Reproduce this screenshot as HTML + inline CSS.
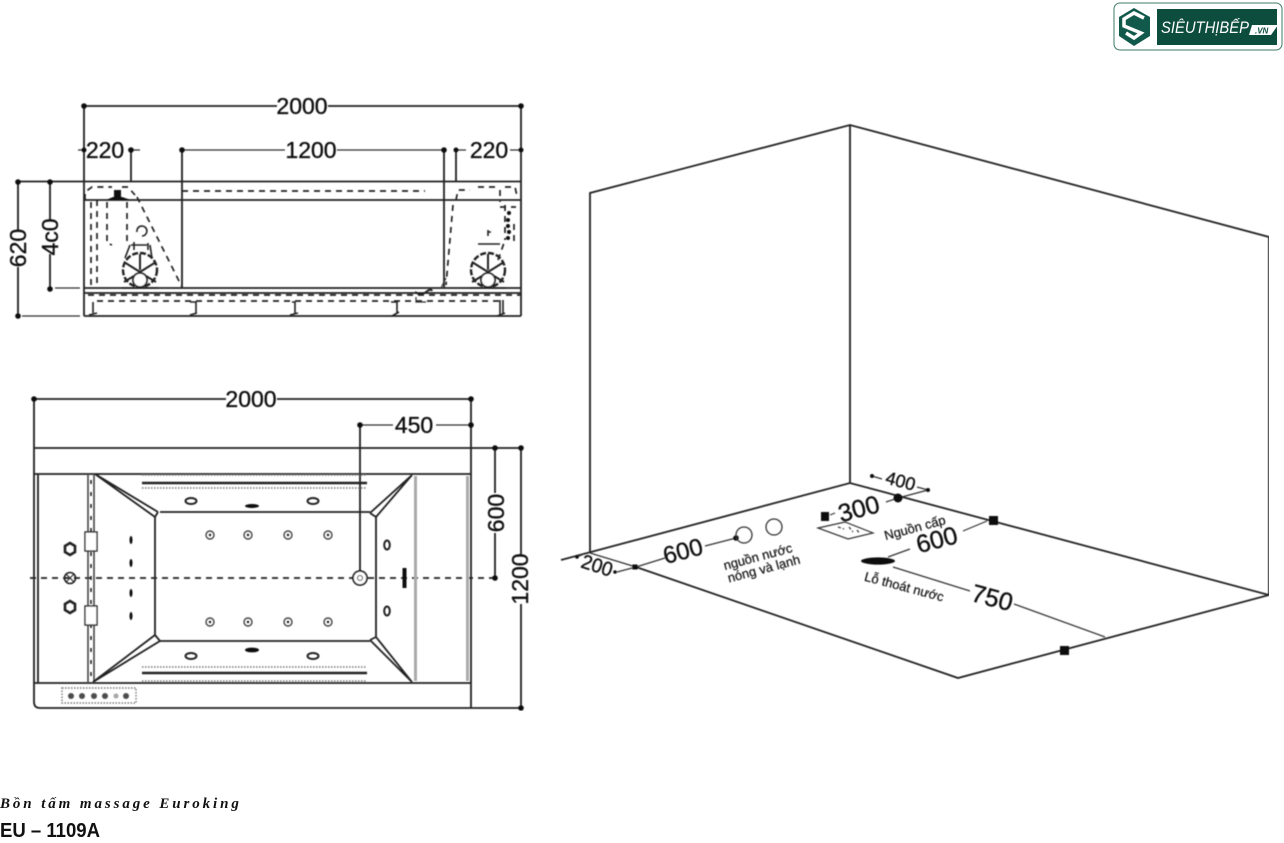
<!DOCTYPE html>
<html><head><meta charset="utf-8"><style>
html,body{margin:0;padding:0;background:#fff;width:1284px;height:843px;overflow:hidden}
svg{display:block}
text{font-family:"Liberation Sans","DejaVu Sans",sans-serif;fill:#111}
.d{font-size:23px;text-anchor:middle;stroke:#111;stroke-width:.35px}
.l{stroke:#222;stroke-width:1.8;fill:none}
.t{stroke:#333;stroke-width:1.2;fill:none}
.da{stroke:#222;stroke-width:1.7;fill:none;stroke-dasharray:6 5}
.do{stroke:#777;stroke-width:1.4;fill:none;stroke-dasharray:1.5 1.5}
.f{fill:#111}
.s{font-size:13px;text-anchor:middle;stroke:#111;stroke-width:.2px}
</style></head><body>
<svg width="1284" height="843" viewBox="0 0 1284 843" xmlns="http://www.w3.org/2000/svg">
<defs><filter id="b" x="0" y="0" width="100%" height="100%"><feGaussianBlur stdDeviation="0.4"/></filter></defs>
<g filter="url(#b)">
<!-- TOP VIEW -->
<g>
<path class="l" d="M84 106H277M328 106H521M84 106V316M521 106V316"/>
<path class="t" d="M78 150H84M128 150H140M182 150H285M337 150H444M456 150H466M510 150H521"/>
<path class="l" d="M131 150V181M182 150V288M444 150V288M456 150V181"/>
<path class="l" d="M18 181.5H521M84 200H521M84 288H521M84 293H521M84 316H521"/>
<path class="t" d="M55 288H80M22 316H80"/>
<path class="l" d="M18 182V230M18 267V316M50 182V220M50 254V288"/>
<g class="f">
<circle cx="84" cy="106" r="2.8"/><circle cx="521" cy="106" r="2.8"/><circle cx="84" cy="150" r="2.5"/><circle cx="131" cy="150" r="2.8"/><circle cx="182" cy="150" r="2.8"/><circle cx="444" cy="150" r="2.8"/><circle cx="456" cy="150" r="2.5"/><circle cx="521" cy="150" r="2.5"/><circle cx="18" cy="182" r="2.8"/><circle cx="50" cy="182" r="2.8"/><circle cx="18" cy="316" r="2.8"/><circle cx="50" cy="289" r="2.8"/>
</g>
<text class="d" x="302" y="114">2000</text>
<text class="d" x="105" y="158">220</text>
<text class="d" x="311" y="158">1200</text>
<text class="d" x="489" y="158">220</text>
<text class="d" transform="translate(26,248) rotate(-90)">620</text>
<text class="d" transform="translate(58,237) rotate(-90)">4c0</text>
<path class="da" d="M182 191H425M88 295H521M97 301H500"/>
<path class="da" d="M85 200V192L92 187H112M122 187H128L135 195M137 197L182 287M91 202V288M97 200V285M107 202V243L112 245M127 202V245"/>
<path class="da" d="M456 200L458 190H470M478 187H495M505 187H515L517 196M453 205L446 285M500 190V202M505 205V240M498 260L504 243"/>
<path class="f" d="M114 190h7v8h-7z"/><path d="M106 200L113 197H122L131 200Z" class="f"/>
<g class="f"><circle cx="509" cy="213" r="2"/><circle cx="508" cy="220" r="2"/><circle cx="508" cy="226" r="2"/><circle cx="509" cy="232" r="2"/><circle cx="508" cy="238" r="2"/></g>
<path class="da" d="M500 207H516M514 224V242"/>
<!-- motors -->
<g class="l">
<circle cx="140" cy="270" r="17" stroke-dasharray="6 2" stroke-width="2.4"/>
<path d="M140 254V270M124 262L140 272M156 262L140 272M124 282L134 276M156 282L146 276" stroke-width="2"/>
<circle cx="140" cy="280" r="7" fill="#fff"/>
<path d="M122 288H158M131 245H147M137 232A5 5 0 1 1 142 236M134 242V250M148 243V250M125 258L130 245M152 258L150 245" stroke-width="1.6"/>
</g>
<g class="l">
<circle cx="488" cy="270" r="17" stroke-dasharray="6 2" stroke-width="2.4"/>
<path d="M488 254V270M472 262L488 272M504 262L488 272M472 282L482 276M504 282L494 276" stroke-width="2"/>
<circle cx="488" cy="280" r="7" fill="#fff"/>
<path d="M470 288H506M478 244H500M488 232H491M488 236V230" stroke-width="1.6"/>
</g>
<!-- feet -->
<g class="l">
<path d="M93 302V313M89 315L97 313M190 302H196V313M190 315L197 313M292 302H295V313M290 315L298 313M391 302H397V313M392 316L399 312M500 300V314M497 316L505 313M503 300V314" stroke-width="1.6"/>
</g>
<path d="M415 292Q421 296 426 292T432 291" stroke="#222" stroke-width="2" fill="none"/>
<path class="t" d="M416 297V302H426M441 288L446 278"/>
</g>
<!-- BOTTOM VIEW -->
<g>
<path class="l" d="M34 399H226M277 399H471M34 399V702Q34 708 40 708H521M471 399V708"/>
<path class="t" d="M360 425H393M436 425H471"/>
<path class="l" d="M360 425V571M34 448H521M495 448V493M495 533V578M521 448V555M521 604V708"/>
<path class="da" d="M30 578H353M368 578H495"/>
<g class="f">
<circle cx="34" cy="399" r="2.8"/><circle cx="471" cy="399" r="2.8"/><circle cx="360" cy="425" r="2.8"/><circle cx="471" cy="425" r="2.8"/><circle cx="495" cy="448" r="2.8"/><circle cx="521" cy="448" r="2.8"/><circle cx="495" cy="578" r="2.8"/><circle cx="521" cy="708" r="2.8"/>
</g>
<text class="d" x="251" y="407">2000</text>
<text class="d" x="414" y="433">450</text>
<text class="d" transform="translate(504,513) rotate(-90)">600</text>
<text class="d" transform="translate(528,579) rotate(-90)">1200</text>
<path class="l" d="M34 474H471M34 683H471M38 474V683"/>
<path d="M88 474V683M94 474V683" stroke="#444" stroke-width="1.6" fill="none"/>
<path d="M91 480V680" stroke="#222" stroke-width="1.6" stroke-dasharray="4 8" fill="none"/>
<path d="M415.5 476V681M467.5 476V681" stroke="#aaa" stroke-width="3" fill="none"/>
<path class="l" d="M155 517V635M160 512H370M376 517V637M160 641H370"/>
<path class="l" d="M95 474L158 512M95 474L155 517M155 517L158 512M412 475L370 513M412 475L376 517M370 513L376 517M93 682L155 635M93 682L160 641M155 635L160 641M412 682L370 640M412 682L376 637M370 640L376 637" stroke-width="1.3"/>
<path d="M142 483H367M142 673H367" stroke="#222" stroke-width="2.6"/>
<path class="do" d="M142 475H367M142 488H367M142 667H367M142 681H367"/>
<circle cx="360" cy="578" r="7" fill="#fff" stroke="#222" stroke-width="1.8"/><circle cx="360" cy="578" r="2.5" fill="none" stroke="#333"/>
<g fill="none" stroke="#444" stroke-width="1.4">
<circle cx="210" cy="535" r="4"/><circle cx="248" cy="535" r="4"/><circle cx="288" cy="535" r="4"/><circle cx="328" cy="535" r="4"/>
<circle cx="210" cy="622" r="4"/><circle cx="248" cy="622" r="4"/><circle cx="288" cy="622" r="4"/><circle cx="328" cy="622" r="4"/>
</g>
<g class="f"><circle cx="210" cy="535" r="1.2"/><circle cx="248" cy="535" r="1.2"/><circle cx="288" cy="535" r="1.2"/><circle cx="328" cy="535" r="1.2"/><circle cx="210" cy="622" r="1.2"/><circle cx="248" cy="622" r="1.2"/><circle cx="288" cy="622" r="1.2"/><circle cx="328" cy="622" r="1.2"/></g>
<g fill="none" stroke="#222" stroke-width="2">
<ellipse cx="191" cy="501" rx="5.5" ry="3"/><ellipse cx="313" cy="501" rx="5.5" ry="3"/><ellipse cx="191" cy="656" rx="5.5" ry="3"/><ellipse cx="313" cy="656" rx="5.5" ry="3"/>
<ellipse cx="387" cy="545" rx="2.8" ry="4.5"/><ellipse cx="387" cy="611" rx="2.8" ry="4.5"/>
</g>
<g class="f"><ellipse cx="252" cy="506" rx="7" ry="2"/><ellipse cx="252" cy="650" rx="7" ry="2.4"/><rect x="402.5" y="568" width="4" height="20"/>
<ellipse cx="131" cy="540" rx="1.5" ry="4"/><ellipse cx="131" cy="563" rx="1.5" ry="4"/><ellipse cx="131" cy="593" rx="1.5" ry="4"/><ellipse cx="131" cy="616" rx="1.5" ry="4"/></g>
<g fill="#fff" stroke="#222" stroke-width="1.4">
<rect x="85" y="532" width="12" height="19"/><rect x="85" y="606" width="12" height="19"/>
</g>
<g fill="none" stroke="#222">
<path d="M70 543L75 546V552L70 555L65 552V546Z" stroke-width="2.6"/><path d="M70 601L75 604V610L70 613L65 610V604Z" stroke-width="2.6"/>
<circle cx="70" cy="578" r="5.5" stroke-width="1.6"/><path d="M66 574L74 582M74 574L66 582" stroke-width="1"/>
</g>
<path class="do" d="M62 688H136V703H62Z"/>
<g class="f" fill-opacity=".75"><circle cx="71" cy="696" r="3"/><circle cx="82" cy="696" r="3"/><circle cx="94" cy="696" r="3"/><circle cx="105" cy="696" r="3"/><circle cx="116" cy="696" r="2.5" fill="#888"/><circle cx="126" cy="696" r="3"/></g>
</g>
<!-- 3D ROOM -->
<g>
<path class="l" d="M590 552V193L850 125L1269 237V595M850 125V483"/>
<path class="l" d="M561 560L850 483L1269 595L958 678L636 567"/>
<path class="t" d="M577 557L584 554M590 553L636 567M617 572L636 567M636 567L665 558M705 546L736 538"/>
<path class="t" d="M872 476L882 479M917 487L928 490M898 498L928 490M830 515L835 513M886 502L898 498M888 557L910 549M963 531L987 521M893 567L970 591M1014 604L1105 637"/>
<g class="f"><circle cx="577" cy="557" r="1.8"/><circle cx="615" cy="572" r="1.8"/><rect x="632.5" y="564.5" width="5" height="5"/><circle cx="736" cy="538" r="2.8"/><circle cx="872" cy="476" r="2"/><circle cx="928" cy="490" r="2"/><circle cx="898" cy="498" r="4.5"/>
<rect x="821" y="512" width="8" height="9"/><rect x="989" y="516" width="9" height="9"/><rect x="1060" y="646" width="9" height="9"/><ellipse cx="878" cy="561" rx="17" ry="3.6"/></g>
<circle cx="744" cy="535" r="8" fill="none" stroke="#333" stroke-width="1.3"/><circle cx="774" cy="527" r="8" fill="none" stroke="#333" stroke-width="1.3"/>
<path class="t" d="M818 528L845 522L873 533L848 539Z"/>
<path class="t" d="M838 527L844 529M849 527L853 532M857 530L860 534" stroke-dasharray="3 2"/>
<text class="d" transform="translate(595,572) rotate(18) scale(.95 1)" style="font-size:20px">200</text>
<text class="d" transform="translate(685,559) rotate(-15)" style="font-size:24px">600</text>
<text class="d" transform="translate(861,517) rotate(-15)" style="font-size:25px">300</text>
<text class="d" transform="translate(899,487) rotate(15)" style="font-size:18px">400</text>
<text class="d" transform="translate(939,548) rotate(-15)" style="font-size:25px">600</text>
<text class="d" transform="translate(990,606) rotate(15)" style="font-size:25px">750</text>
<text class="s" transform="translate(759,561) rotate(-15)">nguồn nước</text>
<text class="s" transform="translate(765,573) rotate(-15)">nóng và lạnh</text>
<text class="s" transform="translate(916,532) rotate(-15)">Nguồn cấp</text>
<text class="s" transform="translate(903,591) rotate(15)">Lỗ thoát nước</text>
</g>
</g>
<!-- LOGO -->
<g>
<rect x="1114" y="3" width="168" height="47" rx="6" fill="#fff" stroke="#3f7a68" stroke-width="1"/>
<path d="M1134 8L1150 17V36L1134 46L1119 36V17Z" fill="#11594a"/>
<path d="M1144 18L1134 13L1124 19V26L1141 33L1134 38L1126 33" fill="none" stroke="#fff" stroke-width="3.5"/>
<rect x="1157" y="9" width="120" height="36" fill="#0d4d3e"/>
<text x="1161" y="33" style="font-size:17px;font-style:italic;fill:#fff" textLength="88" lengthAdjust="spacingAndGlyphs">SIÊUTHỊBẾP</text>
<path d="M1252 25H1278L1271 35H1249Z" fill="#fff"/>
<text x="1255" y="33.5" style="font-size:8px;font-style:italic;font-weight:bold;fill:#0d4d3e">.VN</text>
</g>
<!-- CAPTION -->
<text x="0" y="808" style="font-family:'Liberation Serif','DejaVu Serif',serif;font-size:15px;font-style:italic;font-weight:bold;letter-spacing:2.9px" fill="#222">Bồn tấm massage Euroking</text>
<text x="0" y="837" style="font-size:20px;font-weight:bold" textLength="100" lengthAdjust="spacingAndGlyphs">EU – 1109A</text>
</svg>
</body></html>
